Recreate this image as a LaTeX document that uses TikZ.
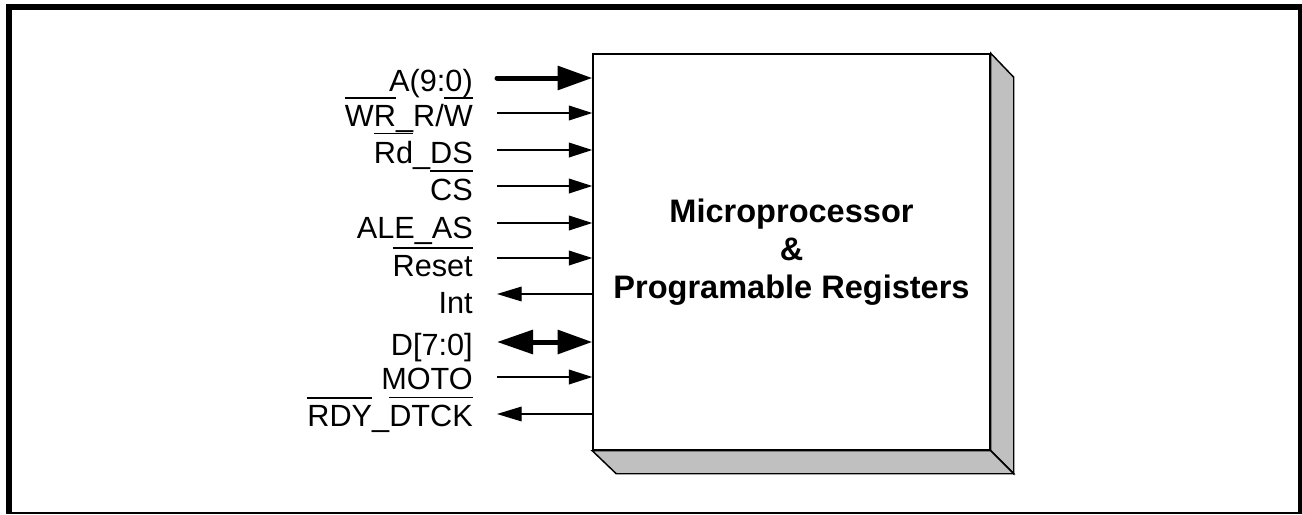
\documentclass[tikz,border=0pt]{standalone}
\usepackage{fontspec}
\setmainfont{Liberation Sans}
\usetikzlibrary{arrows.meta}
\definecolor{mpuShade}{RGB}{192,192,192}
\newcommand{\lowsig}[1]{\leavevmode\vbox{\hrule height 1.1pt\kern 5.2pt\hbox{#1}}}
\tikzset{
  siglabel/.style={anchor=base east,inner sep=0pt,font=\fontsize{23}{27}\selectfont},
  sigin/.style={line width=1pt,-{Triangle[length=17.5pt,width=11pt]}},
  sigout/.style={line width=1pt,{Triangle[length=18.5pt,width=11pt]}-},
  busin/.style={line width=3.75pt,line cap=round,-{Triangle[length=26pt,width=17.5pt]}},
  busio/.style={line width=3.75pt,{Triangle[length=27pt,width=17.5pt]}-{Triangle[length=26pt,width=17.5pt]}},
  mpubox/.style={draw,fill=white,line width=1.1pt,minimum width=297.75pt,minimum height=297pt,
    align=center,font=\fontsize{24.4}{28.5}\selectfont\bfseries},
  mpuface/.style={draw,fill=mpuShade,line width=1.1pt,line join=miter}
}

\begin{document}
\begin{tikzpicture}[x=0.75pt,y=-0.75pt]
  \useasboundingbox (0,0) rectangle (1302,514);
  \draw[line width=4.5pt] (6,7) -- (1302,7);
  \draw[line width=4.5pt] (9,4) -- (9,514);
  \draw[line width=3pt] (1300,4) -- (1300,514);
  \draw[line width=1.5pt] (6,513) -- (1302,513);

  \node[mpubox] (mpu) at (791.5,252) {Microprocessor\\\&\\Programable Registers};
  \path (mpu.south east) ++(23,23) coordinate (mpu-back);
  \draw[mpuface] (mpu.north east) -- ++(23,24) -- (mpu-back) -- (mpu.south east) -- cycle;
  \draw[mpuface] (mpu.south west) -- ++(24,23) -- (mpu-back) -- (mpu.south east) -- cycle;

  \foreach \nm/\ay/\by/\txt/\kind in {
    addr/78/91.7/{A(9:0)\ }/busin,
    wr/113/126.7/{\lowsig{WR}\_R/\lowsig{W}}/sigin,
    rd/150/163.3/{\lowsig{Rd}\_DS}/sigin,
    cs/186/200/{\lowsig{CS}}/sigin,
    ale/223/238.3/{ALE\_AS}/sigin,
    reset/258/276.7/{\lowsig{Reset}}/sigin,
    int/294/313.3/{Int}/sigout,
    data/342/355/{D[7:0]}/busio,
    moto/377/389.3/{MOTO}/sigin,
    rdy/414/426.7/{\lowsig{RDY}\_\lowsig{DTCK}}/sigout}{
    \node[siglabel] (\nm) at (473,\by) {\txt};
    \coordinate (\nm-end) at (497,\ay);
    \draw[\kind] (\nm-end) -- (\nm-end -| mpu.west);
  }
\end{tikzpicture}
\end{document}
